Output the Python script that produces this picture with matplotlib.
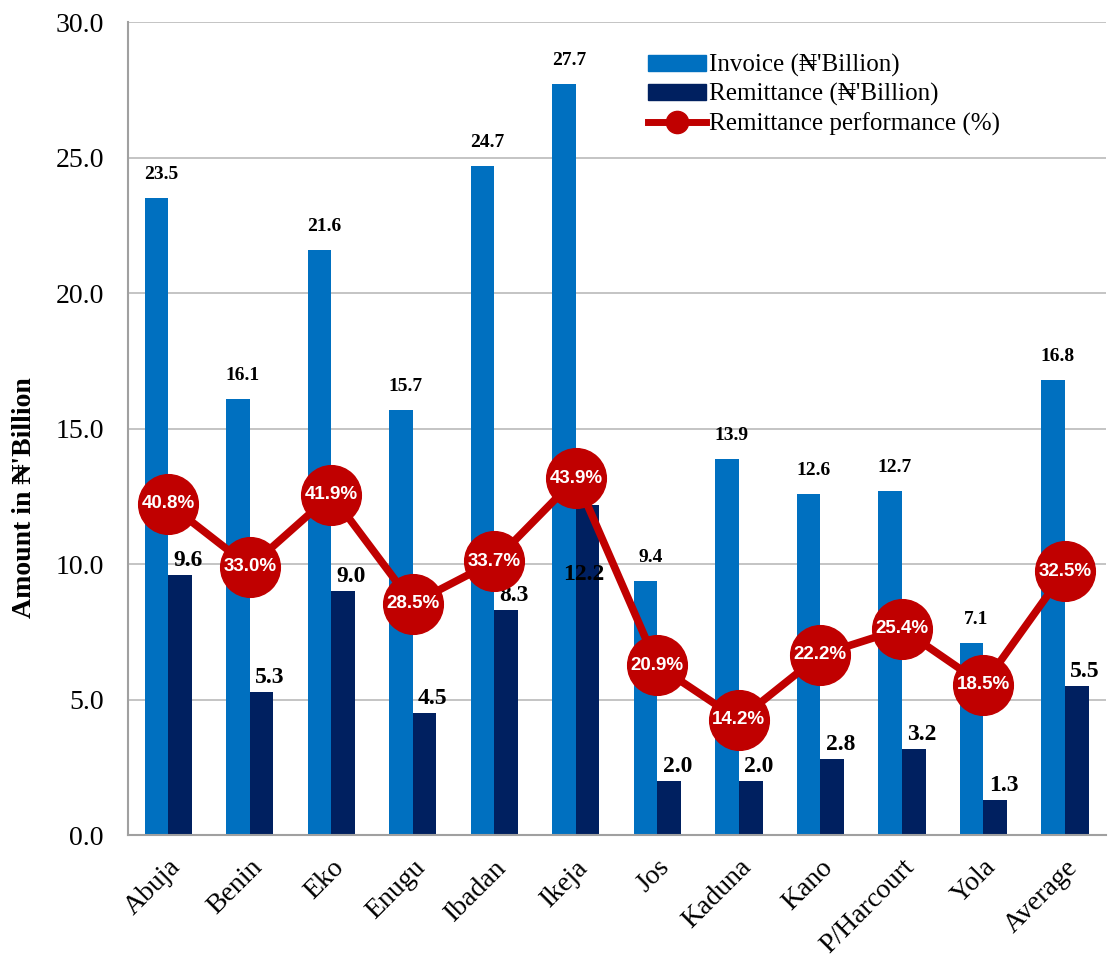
import numpy as np
import matplotlib.pyplot as plt
from matplotlib.lines import Line2D
from matplotlib.patches import Patch

regions = ['Abuja', 'Benin', 'Eko', 'Enugu', 'Ibadan', 'Ikeja', 'Jos',
           'Kaduna', 'Kano', 'P/Harcourt', 'Yola', 'Average']
invoice = [23.5, 16.1, 21.6, 15.7, 24.7, 27.7, 9.4, 13.9, 12.6, 12.7, 7.1, 16.8]
remittance = [9.6, 5.3, 9.0, 4.5, 8.3, 12.2, 2.0, 2.0, 2.8, 3.2, 1.3, 5.5]
performance = [40.8, 33.0, 41.9, 28.5, 33.7, 43.9, 20.9, 14.2, 22.2, 25.4, 18.5, 32.5]

serif = ['Liberation Serif', 'DejaVu Serif']
plt.rcParams['font.family'] = serif

c_inv = '#0070C0'
c_rem = '#002060'
c_line = '#C00000'

fig = plt.figure(figsize=(11.09, 9.58), dpi=100)
ax = fig.add_axes([0.115, 0.128, 0.882, 0.849])

x = np.arange(len(regions))
w = 0.29
ax.bar(x - w / 2, invoice, w, color=c_inv, zorder=2)
ax.bar(x + w / 2, remittance, w, color=c_rem, zorder=2)

for i in range(len(regions)):
    ax.text(x[i] - w / 2 + 0.06, invoice[i] + 0.55, f'{invoice[i]:.1f}',
            ha='center', va='bottom', fontsize=14, fontweight='bold')
    if regions[i] == 'Ikeja':
        # marker sits on top of this bar, so the label goes below
        ax.text(x[i] + w / 2 - 0.05, remittance[i] - 2.2, f'{remittance[i]:.1f}',
                ha='center', va='top', fontsize=17, fontweight='bold')
    else:
        ax.text(x[i] + w / 2 + 0.1, remittance[i] + 0.15, f'{remittance[i]:.1f}',
                ha='center', va='bottom', fontsize=17, fontweight='bold')

ax.set_ylim(0, 30)
ax.set_xlim(-0.5, len(regions) - 0.5)
ax.set_yticks(np.arange(0, 31, 5))
ax.set_yticklabels([f'{v:.1f}' for v in np.arange(0, 31, 5)], fontsize=20)
ax.set_xticks(x)
ax.set_xticklabels(regions, rotation=45, ha='right', rotation_mode='anchor', fontsize=20)
ax.tick_params(length=0)
ax.tick_params(axis='y', pad=17)
ax.tick_params(axis='x', pad=14)
ax.yaxis.grid(True, color='#BFBFBF', lw=1.3, zorder=0)
ax.set_axisbelow(True)
for s in ['top', 'right']:
    ax.spines[s].set_visible(False)
for s in ['left', 'bottom']:
    ax.spines[s].set_color('#A0A0A0')
    ax.spines[s].set_linewidth(1.5)
ax.set_ylabel("Amount in \u20a6'Billion", fontsize=20, fontweight='bold')
ax.yaxis.set_label_coords(-0.093, 0.415)

ax2 = ax.twinx()
ax2.set_ylim(0, 100)
ax2.plot(x, performance, color=c_line, lw=5.5, marker='o', markersize=43, zorder=3)
for i in range(len(regions)):
    ax2.text(x[i], performance[i], f'{performance[i]:.1f}%', ha='center', va='center',
             color='white', fontsize=13.5, fontweight='bold', family=['Liberation Sans', 'DejaVu Sans'])
ax2.axis('off')

handles = [Patch(color=c_inv), Patch(color=c_rem),
           Line2D([0], [0], color=c_line, lw=5, marker='o', markersize=16)]
labels = ["Invoice (\u20a6'Billion)", "Remittance (\u20a6'Billion)", 'Remittance performance (%)']
ax.legend(handles, labels, loc='upper left', bbox_to_anchor=(0.522, 0.973), frameon=False,
          fontsize=18, handlelength=2.3, handleheight=0.6, handletextpad=0.15,
          labelspacing=0.25, borderaxespad=0)

fig.savefig('out.png', dpi=100)
